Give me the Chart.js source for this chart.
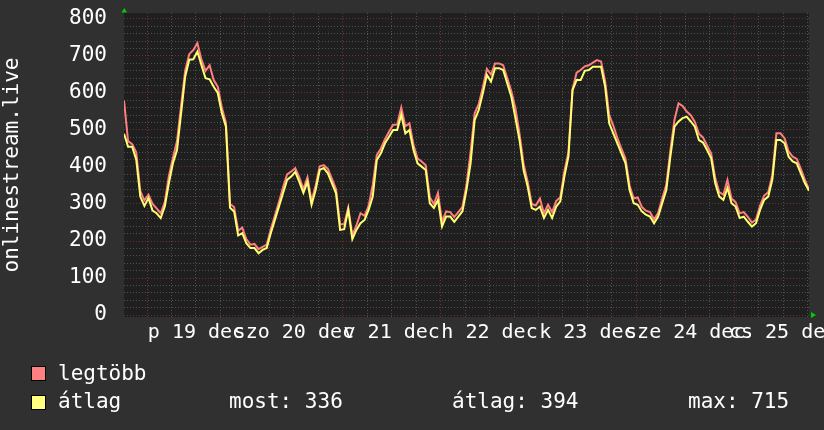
<!DOCTYPE html>
<html>
<head>
<meta charset="utf-8">
<script src="https://cdn.jsdelivr.net/npm/chart.js@4/dist/chart.umd.min.js"></script>
<style>
  html, body { margin: 0; padding: 0; background: #303030; }
  #wrap { position: relative; width: 824px; height: 430px; overflow: hidden; }
  .leg { position: absolute; font: 21px "DejaVu Sans Mono", monospace; line-height: 21px; color: #fff; white-space: pre; }
  .box { position: absolute; width: 13px; height: 13px; border: 1px solid #000; }
</style>
</head>
<body>
<div id="wrap">
  <canvas id="chart" width="824" height="430"></canvas>
  <span class="box" style="left:31px; top:366px; background:#ff8080"></span>
  <span class="leg" style="left:58px; top:363px">legtöbb</span>
  <span class="box" style="left:31px; top:395px; background:#ffff80"></span>
  <span class="leg" style="left:58px; top:391px">átlag</span>
  <span class="leg" style="left:229px; top:391px">most: 336</span>
  <span class="leg" style="left:452px; top:391px">átlag: 394</span>
  <span class="leg" style="left:688px; top:391px">max: 715</span>
</div>
<script>
// napi címkék (dél-re igazítva)
const dayLabels = ['p 19 dec', 'szo 20 dec', 'v 21 dec', 'h 22 dec', 'k 23 dec', 'sze 24 dec', 'cs 25 dec'];

// óránkénti értékek, az első pont 5.65 órával dec 19 éjfél előtt
const legtobb = [
  580, 470, 462, 440, 335, 310, 325, 300, 288, 275, 305, 375, 425, 470, 565, 660, 705, 716, 735, 690,
  660, 675, 635, 617, 560, 520, 300, 292, 228, 236, 205, 190, 192, 178, 184, 190, 232, 268, 305, 345,
  380, 388, 397, 372, 340, 372, 308, 350, 402, 405, 395, 368, 340, 245, 245, 290, 215, 242, 275, 268,
  295, 352, 432, 450, 475, 495, 514, 515, 561, 510, 518, 460, 423, 415, 405, 318, 300, 330, 252, 280,
  278, 265, 278, 292, 352, 440, 545, 570, 615, 665, 650, 680, 680, 675, 640, 605, 559, 490, 408, 360,
  300, 296, 315, 275, 298, 278, 308, 318, 388, 440, 610, 655, 662, 672, 675, 682, 689, 685, 632, 540,
  512, 478, 450, 422, 350, 315, 318, 292, 282, 278, 258, 276, 315, 352, 445, 527, 572, 565, 550, 540,
  522, 490, 480, 458, 437, 370, 332, 325, 365, 315, 305, 275, 278, 265, 250, 258, 296, 323, 332, 378,
  491, 491, 478, 442, 428, 422, 395, 365, 340
];
const atlag = [
  490, 455, 455, 420, 320, 295, 316, 282, 275, 262, 293, 356, 410, 446, 545, 644, 690, 691, 712, 675,
  640, 637, 617, 600, 545, 509, 290, 280, 215, 221, 194, 181, 181, 167, 176, 181, 221, 257, 293, 329,
  365, 374, 387, 360, 330, 360, 298, 338, 392, 397, 383, 356, 329, 230, 232, 285, 205, 230, 248, 257,
  284, 320, 419, 437, 464, 482, 500, 500, 541, 491, 500, 446, 410, 401, 392, 302, 289, 311, 239, 266,
  266, 252, 266, 280, 338, 410, 527, 554, 599, 649, 631, 667, 667, 662, 626, 590, 532, 473, 392, 347,
  289, 284, 293, 262, 284, 262, 293, 307, 374, 428, 608, 635, 635, 660, 662, 671, 671, 671, 617, 518,
  491, 464, 437, 410, 338, 302, 298, 280, 271, 266, 248, 266, 302, 338, 428, 509, 523, 532, 536, 523,
  509, 473, 466, 446, 424, 356, 320, 311, 343, 302, 293, 262, 266, 252, 239, 248, 284, 311, 320, 365,
  473, 473, 464, 428, 415, 410, 383, 356, 336
];

const startHour = -5.65;
const mono = '"DejaVu Sans Mono", monospace';
const toPoints = arr => arr.map((v, i) => ({ x: startHour + i, y: v }));

// tengely címkék miatti extra padding kikapcsolása
function noPad(s) {
  s.paddingTop = 0; s.paddingBottom = 0; s.paddingLeft = 0; s.paddingRight = 0;
}

// háttér + zöld nyilak
const rrdLook = {
  id: 'rrdLook',
  beforeDraw(chart) {
    const c = chart.ctx, a = chart.chartArea;
    c.save();
    c.fillStyle = '#303030';
    c.fillRect(0, 0, chart.width, chart.height);
    c.fillStyle = '#1f1f1f';
    c.fillRect(a.left, a.top, a.right - a.left, a.bottom - a.top);
    c.restore();
  },
  afterDraw(chart) {
    const c = chart.ctx, a = chart.chartArea;
    const y0 = chart.scales.y.getPixelForValue(0);
    c.save();
    c.fillStyle = '#00cc00';
    c.beginPath();
    c.moveTo(a.left - 2.5, 12.5); c.lineTo(a.left + 3, 12.5); c.lineTo(a.left + 0.25, 8); c.closePath();
    c.fill();
    c.beginPath();
    c.moveTo(a.right + 2, y0 - 3); c.lineTo(a.right + 2, y0 + 3); c.lineTo(a.right + 7, y0); c.closePath();
    c.fill();
    c.restore();
  }
};

const majorGrid = '#6a3232';
const minorGrid = '#505050';

new Chart(document.getElementById('chart'), {
  type: 'line',
  data: {
    datasets: [
      { label: 'legtöbb', data: toPoints(legtobb), borderColor: '#ff7f7f', borderWidth: 2, pointRadius: 0, tension: 0, order: 2 },
      { label: 'átlag', data: toPoints(atlag), borderColor: '#ffff70', borderWidth: 2, pointRadius: 0, tension: 0, order: 1 }
    ]
  },
  options: {
    responsive: false,
    animation: false,
    events: [],
    layout: { padding: { left: 0, top: 13, right: 15, bottom: 0 } },
    plugins: { legend: { display: false }, tooltip: { enabled: false } },
    scales: {
      x: {
        type: 'linear',
        min: startHour,
        max: startHour + 168,
        afterBuildTicks: s => {
          const t = [];
          for (let h = 0; h <= 162; h += 6) t.push({ value: h });
          s.ticks = t;
        },
        afterFit: s => { s.height = 113; noPad(s); },
        grid: {
          color: ctx => (ctx.tick && ctx.tick.value % 24 === 0) ? majorGrid : minorGrid,
          lineWidth: 1,
          drawTicks: false
        },
        border: { display: false, dash: [1, 2] },
        ticks: {
          autoSkip: false,
          maxRotation: 0,
          minRotation: 0,
          padding: 4,
          color: '#ffffff',
          font: { family: mono, size: 20 },
          callback: v => (v % 24 === 12 ? dayLabels[(v - 12) / 24] : '')
        }
      },
      y: {
        min: -5.4,
        max: 816.2,
        afterBuildTicks: s => {
          const t = [];
          for (let v = 0; v <= 800; v += 20) t.push({ value: v });
          s.ticks = t;
        },
        afterFit: s => { s.width = 124; noPad(s); },
        grid: {
          color: ctx => (ctx.tick && ctx.tick.value % 100 === 0) ? majorGrid : minorGrid,
          lineWidth: 1,
          drawTicks: false
        },
        border: { display: false, dash: [1, 2] },
        ticks: {
          autoSkip: false,
          padding: 17,
          color: '#ffffff',
          font: { family: mono, size: 21 },
          callback: v => (v % 100 === 0 ? String(v) : '')
        },
        title: {
          display: true,
          text: 'onlinestream.live',
          color: '#ffffff',
          font: { family: mono, size: 21 },
          padding: 0
        }
      }
    }
  },
  plugins: [rrdLook]
});
</script>
</body>
</html>
